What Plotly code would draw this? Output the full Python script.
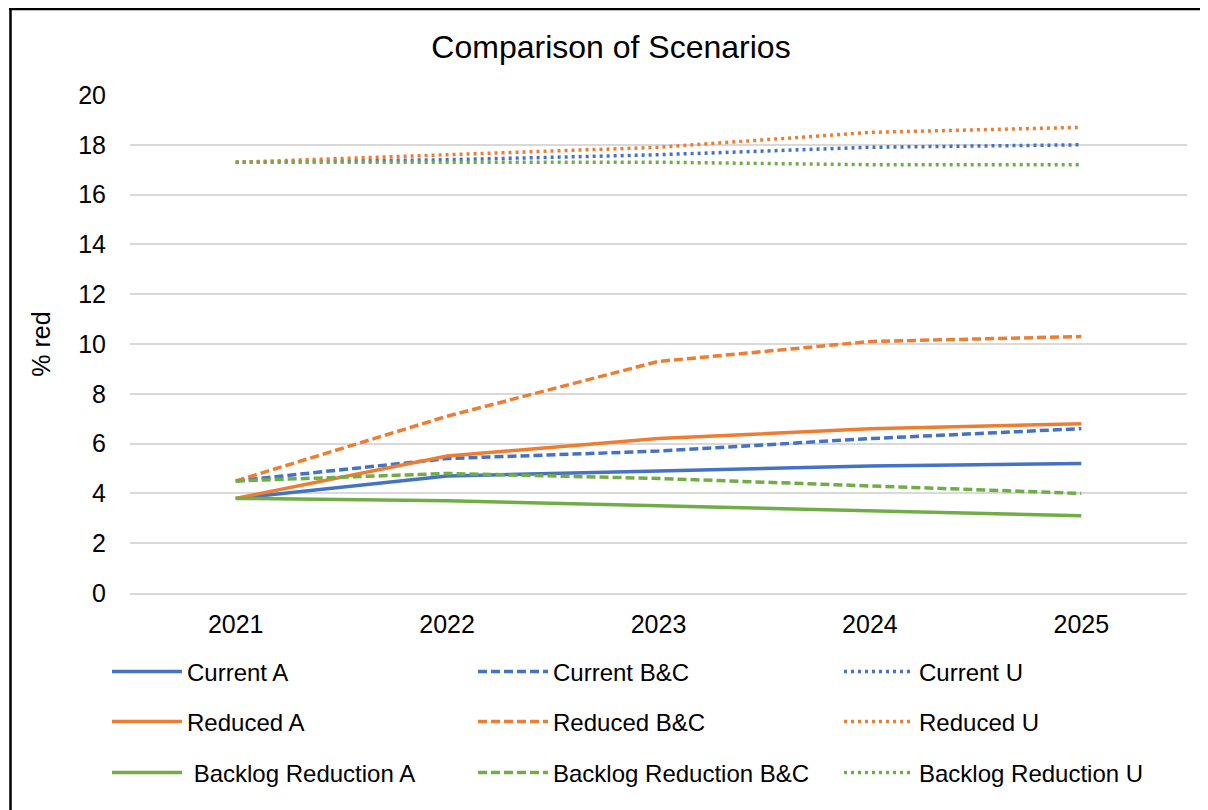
import plotly.graph_objects as go

years = ["2021", "2022", "2023", "2024", "2025"]

current_a = [3.8, 4.7, 4.9, 5.1, 5.2]
current_bc = [4.5, 5.4, 5.7, 6.2, 6.6]
current_u = [17.3, 17.4, 17.6, 17.9, 18.0]
reduced_a = [3.8, 5.5, 6.2, 6.6, 6.8]
reduced_bc = [4.5, 7.1, 9.3, 10.1, 10.3]
reduced_u = [17.3, 17.6, 17.9, 18.5, 18.7]
backlog_a = [3.8, 3.7, 3.5, 3.3, 3.1]
backlog_bc = [4.5, 4.8, 4.6, 4.3, 4.0]
backlog_u = [17.3, 17.3, 17.3, 17.2, 17.2]

BLUE = "#4472C4"
ORANGE = "#ED7D31"
GREEN = "#70AD47"
DASH = "9px,4px"
DOT = "3px,4px"

series = [
    ("Current A", current_a, BLUE, "solid", "legend"),
    ("Current B&C", current_bc, BLUE, DASH, "legend"),
    ("Current U", current_u, BLUE, DOT, "legend"),
    ("Reduced A", reduced_a, ORANGE, "solid", "legend2"),
    ("Reduced B&C", reduced_bc, ORANGE, DASH, "legend2"),
    ("Reduced U", reduced_u, ORANGE, DOT, "legend2"),
    (" Backlog Reduction A", backlog_a, GREEN, "solid", "legend3"),
    ("Backlog Reduction B&C", backlog_bc, GREEN, DASH, "legend3"),
    ("Backlog Reduction U", backlog_u, GREEN, DOT, "legend3"),
]

fig = go.Figure()
for name, vals, color, dash, leg in series:
    fig.add_trace(go.Scatter(
        x=years, y=vals, name=name, mode="lines",
        line=dict(color=color, width=3.5, dash=dash),
        legend=leg,
    ))

FONT = "Liberation Sans, Arial, sans-serif"

# figure pixel geometry (the page adds an 8px body margin)
W, H = 1208, 802
L, T = 122, 87
R = W - 1179
B = H - 585
PW = W - L - R
PH = H - T - B


def px_x(p):
    return (p - L) / PW


def px_y(p):
    return (H - B - p) / PH


def legend_cfg(ypix):
    return dict(
        orientation="h",
        x=px_x(99), xanchor="left",
        y=px_y(ypix), yanchor="middle",
        entrywidth=281, entrywidthmode="pixels",
        itemwidth=70,
        font=dict(family=FONT, size=24, color="#000000"),
        bgcolor="rgba(0,0,0,0)",
        traceorder="normal",
    )


fig.update_layout(
    width=W, height=H,
    margin=dict(l=L, r=R, t=T, b=B),
    paper_bgcolor="white", plot_bgcolor="white",
    font=dict(family=FONT, color="#000000"),
    title=dict(text="Comparison of Scenarios", x=603 / W, xref="container",
               xanchor="center", y=1 - 39 / H, yanchor="middle",
               font=dict(family=FONT, size=32, color="#000000")),
    xaxis=dict(type="category", range=[-0.5, 4.5], showgrid=False,
               showline=True, linecolor="#D9D9D9", linewidth=1.5,
               ticks="", tickfont=dict(family=FONT, size=25, color="#000000"),
               ticklabelstandoff=8),
    yaxis=dict(range=[0, 20], dtick=2, showgrid=True, gridcolor="#D9D9D9",
               gridwidth=1.5, zeroline=False, showline=False, ticks="",
               tickfont=dict(family=FONT, size=25, color="#000000"),
               ticklabelstandoff=23,
               title=dict(text="% red", standoff=20,
                          font=dict(family=FONT, size=25, color="#000000"))),
    legend=legend_cfg(664),
    legend2=legend_cfg(714),
    legend3=legend_cfg(765),
    shapes=[
        dict(type="line", xref="paper", yref="paper",
             x0=px_x(1), x1=px_x(W + 20), y0=px_y(1), y1=px_y(1),
             line=dict(color="black", width=2.5)),
        dict(type="line", xref="paper", yref="paper",
             x0=px_x(2.5), x1=px_x(2.5), y0=px_y(0), y1=px_y(H + 20),
             line=dict(color="black", width=2.5)),
    ],
)

fig.write_html("out.html")
